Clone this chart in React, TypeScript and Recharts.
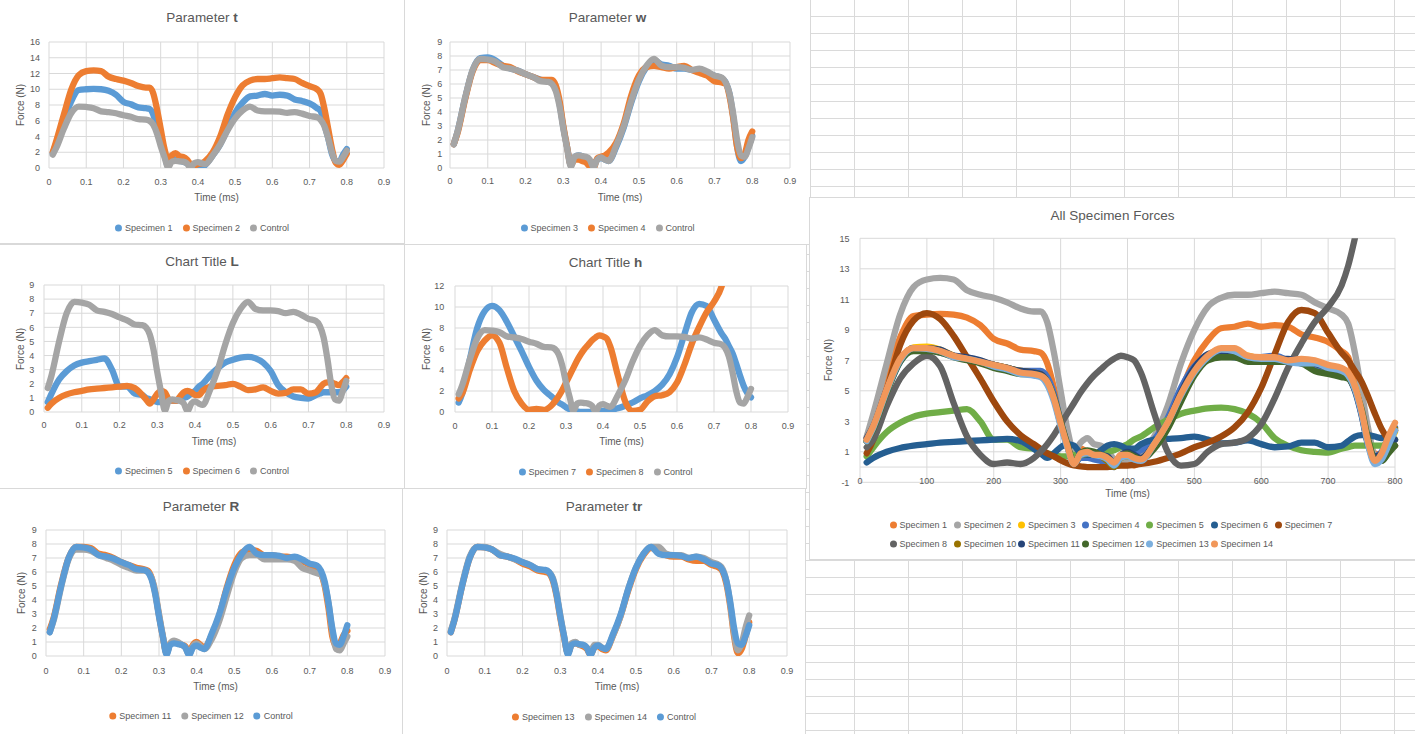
import React from 'react'
import { LineChart, Line, XAxis, YAxis, CartesianGrid, ReferenceLine } from 'recharts'

/* ========================================
   Data
   ======================================== */

const TIME_MS = [
  10, 20, 40, 60, 80, 100, 120, 140, 160, 180, 200, 220, 240, 260, 270, 280, 290, 300,
  310, 320, 330, 340, 350, 360, 370, 380, 390, 400, 410, 420, 440, 460, 480, 500, 520,
  540, 560, 580, 600, 620, 640, 660, 680, 700, 720, 730, 740, 750, 760, 770, 780, 790, 800,
]

const CONTROL = [
  1.7, 2.6, 5.0, 7.0, 7.8, 7.75, 7.6, 7.2, 7.1, 6.95, 6.7, 6.5, 6.2, 6.15, 6.0, 5.5, 4.4, 2.8,
  1.4, 0.1, 0.8, 0.9, 0.85, 0.8, 0.6, 0.05, 0.6, 0.75, 0.6, 0.5, 1.6, 3.0, 4.8, 6.3, 7.3,
  7.8, 7.3, 7.2, 7.2, 7.15, 7.0, 7.1, 6.9, 6.6, 6.45, 6.1, 5.3, 3.8, 2.0, 0.9, 0.8, 1.4, 2.2,
]
const SPECIMEN_1 = [
  1.9, 3.2, 6.0, 8.5, 9.9, 10.0, 10.05, 10.0, 9.8, 9.3, 8.4, 8.1, 7.7, 7.6, 7.5, 6.8, 5.2, 3.5,
  1.8, 0.2, 1.2, 1.0, 0.9, 0.8, 0.6, 0.3, 0.2, 0.3, 0.1, 0.4, 1.6, 3.0, 5.0, 7.0, 8.3,
  9.1, 9.2, 9.4, 9.2, 9.3, 9.2, 8.7, 8.5, 8.2, 7.6, 7.2, 5.5, 3.8, 1.8, 0.9, 0.8, 1.7, 2.4,
]
const SPECIMEN_2 = [
  2.0, 3.5, 6.8, 10.0, 11.8, 12.3, 12.4, 12.3, 11.6, 11.3, 11.1, 10.8, 10.4, 10.2, 10.2, 9.5, 7.5, 5.0,
  2.5, 1.0, 1.6, 1.9, 1.5, 1.4, 1.1, 0.5, 0.3, 0.5, 0.6, 0.9, 2.0, 4.0, 6.8, 9.0, 10.5,
  11.1, 11.3, 11.3, 11.4, 11.5, 11.4, 11.3, 10.8, 10.4, 10.0, 9.4, 7.5, 5.0, 2.5, 0.7, 0.4, 1.0, 1.8,
]
const SPECIMEN_3 = [
  1.7, 2.6, 5.0, 7.0, 7.85, 7.9, 7.7, 7.3, 7.1, 6.95, 6.7, 6.5, 6.3, 6.2, 6.1, 5.7, 4.6, 2.9,
  1.5, 0.2, 0.8, 0.9, 0.85, 0.7, 0.5, 0.3, 0.6, 0.7, 0.6, 0.5, 1.5, 2.9, 4.7, 6.2, 7.2,
  7.7, 7.4, 7.3, 7.1, 7.1, 7.0, 6.9, 6.8, 6.6, 6.4, 6.1, 5.3, 3.6, 1.5, 0.5, 0.8, 1.5, 2.3,
]
const SPECIMEN_4 = [
  1.7, 2.5, 4.9, 6.9, 7.7, 7.7, 7.5, 7.3, 7.2, 6.9, 6.7, 6.5, 6.3, 6.3, 6.3, 5.9, 4.8, 3.0,
  1.5, 0.2, 0.6, 0.6, 0.5, 0.4, 0.1, 0.0, 0.7, 0.8, 0.9, 1.1, 1.8, 3.2, 5.2, 6.6, 7.2,
  7.3, 7.2, 7.1, 7.2, 7.3, 7.0, 6.8, 6.6, 6.2, 6.1, 6.0, 5.1, 3.5, 1.5, 0.7, 1.0, 2.0, 2.6,
]
const SPECIMEN_5 = [
  0.7, 1.3, 2.3, 2.9, 3.3, 3.5, 3.6, 3.7, 3.8, 3.0, 1.8, 1.8, 1.3, 1.2, 1.0, 0.9, 0.8, 0.7,
  0.7, 0.8, 0.8, 0.8, 0.8, 0.9, 1.0, 1.1, 1.3, 1.5, 1.8, 2.0, 2.6, 3.1, 3.5, 3.7, 3.85,
  3.9, 3.8, 3.5, 2.9, 1.9, 1.4, 1.1, 1.0, 0.95, 1.2, 1.3, 1.4, 1.4, 1.4, 1.4, 1.4, 1.5, 1.8,
]
const SPECIMEN_6 = [
  0.3, 0.6, 1.0, 1.25, 1.4, 1.5, 1.6, 1.65, 1.7, 1.75, 1.8, 1.85, 1.7, 1.2, 0.9, 0.6, 0.9, 1.3,
  1.5, 1.4, 0.9, 0.8, 0.8, 1.1, 1.4, 1.5, 1.4, 1.2, 1.2, 1.5, 1.8, 1.85, 1.9, 2.0, 1.8,
  1.55, 1.6, 1.75, 1.5, 1.3, 1.35, 1.6, 1.6, 1.3, 1.4, 1.7, 2.0, 2.1, 2.1, 2.0, 1.9, 2.1, 2.4,
]
const SPECIMEN_7 = [
  0.9, 1.8, 5.0, 8.0, 9.6, 10.1, 9.7, 8.6, 7.2, 5.8, 4.3, 3.0, 2.1, 1.5, 1.2, 0.9, 0.7, 0.45,
  0.25, 0.1, 0.05, 0.0, 0.0, 0.0, 0.0, 0.05, 0.1, 0.1, 0.15, 0.2, 0.35, 0.6, 0.9, 1.3, 1.6,
  2.0, 2.6, 3.6, 5.2, 7.4, 9.5, 10.3, 10.1, 8.8, 7.5, 7.0, 6.3, 5.6, 4.6, 3.5, 2.5, 1.8, 1.4,
]
const SPECIMEN_8 = [
  1.3, 1.8, 4.0, 5.8, 6.8, 7.3, 6.6, 4.2, 2.0, 0.8, 0.2, 0.3, 0.2, 0.6, 1.0, 1.5, 2.1, 2.8,
  3.5, 4.2, 4.9, 5.5, 6.0, 6.4, 6.8, 7.1, 7.3, 7.2, 7.0, 6.2, 3.5, 1.0, 0.1, 0.2, 1.0,
  1.5, 1.6, 1.9, 2.8, 4.5, 6.5, 8.1, 9.5, 10.5, 11.9, 13.2, 15.0, null, null, null, null, null, null,
]
const SPECIMEN_10 = [
  1.7, 2.6, 5.0, 7.0, 7.8, 7.8, 7.6, 7.3, 7.1, 6.9, 6.7, 6.5, 6.3, 6.2, 6.1, 5.6, 4.5, 2.8,
  1.4, 0.2, 0.8, 0.9, 0.8, 0.7, 0.4, 0.0, 0.6, 0.7, 0.6, 0.5, 1.5, 2.9, 4.8, 6.3, 7.3,
  7.7, 7.4, 7.2, 7.2, 7.1, 7.0, 7.0, 6.8, 6.5, 6.3, 6.0, 5.2, 3.6, 1.5, 0.3, 0.8, 1.6, 2.5,
]
const SPECIMEN_11 = [
  1.9, 2.7, 5.1, 7.0, 7.8, 7.8, 7.7, 7.3, 7.2, 7.0, 6.7, 6.5, 6.3, 6.2, 6.1, 5.6, 4.5, 2.9,
  1.4, 0.2, 0.9, 1.0, 0.9, 0.8, 0.7, 0.3, 0.8, 1.0, 0.8, 0.6, 1.5, 2.9, 4.9, 6.5, 7.4,
  7.6, 7.5, 7.2, 7.2, 7.1, 7.1, 7.0, 6.8, 6.5, 6.2, 5.9, 5.0, 3.4, 1.4, 0.7, 0.9, 1.5, 1.8,
]
const SPECIMEN_12 = [
  1.7, 2.5, 4.9, 6.9, 7.6, 7.6, 7.5, 7.2, 7.0, 6.8, 6.5, 6.3, 6.1, 6.1, 6.0, 5.6, 4.6, 3.0,
  1.5, 0.2, 0.9, 1.1, 1.0, 0.8, 0.6, 0.1, 0.7, 0.9, 0.7, 0.5, 1.2, 2.5, 4.3, 6.0, 7.0,
  7.2, 7.2, 6.9, 6.9, 6.9, 6.9, 6.8, 6.3, 6.1, 5.9, 5.8, 5.1, 3.8, 1.8, 0.5, 0.4, 0.9, 1.4,
]
const SPECIMEN_13 = [
  1.7, 2.6, 5.0, 7.0, 7.8, 7.75, 7.6, 7.2, 7.1, 6.9, 6.6, 6.4, 6.1, 6.0, 5.9, 5.4, 4.3, 2.7,
  1.3, 0.2, 0.8, 0.9, 0.8, 0.7, 0.5, 0.1, 0.6, 0.7, 0.5, 0.4, 1.5, 2.9, 4.7, 6.2, 7.2,
  7.7, 7.6, 7.2, 7.1, 7.1, 6.9, 6.8, 6.8, 6.5, 6.3, 6.0, 5.1, 3.5, 1.4, 0.2, 0.5, 1.4, 2.4,
]
const SPECIMEN_14 = [
  1.8, 2.7, 5.1, 7.1, 7.8, 7.8, 7.6, 7.3, 7.1, 6.9, 6.7, 6.5, 6.2, 6.1, 6.0, 5.6, 4.5, 2.9,
  1.4, 0.2, 0.9, 1.0, 0.8, 0.8, 0.6, 0.3, 0.8, 0.8, 0.6, 0.5, 1.5, 2.9, 4.8, 6.3, 7.3,
  7.8, 7.8, 7.3, 7.2, 7.2, 7.0, 7.1, 7.0, 6.7, 6.5, 6.2, 5.3, 3.7, 1.6, 0.4, 0.9, 2.0, 2.9,
]

const X_TICKS_SMALL = [0, 0.1, 0.2, 0.3, 0.4, 0.5, 0.6, 0.7, 0.8, 0.9]
const X_TICKS_ALL = [0, 100, 200, 300, 400, 500, 600, 700, 800]
const Y_TICKS_16 = [0, 2, 4, 6, 8, 10, 12, 14, 16]
const Y_TICKS_12 = [0, 2, 4, 6, 8, 10, 12]
const Y_TICKS_9 = [0, 1, 2, 3, 4, 5, 6, 7, 8, 9]
const Y_TICKS_ALL = [-1, 1, 3, 5, 7, 9, 11, 13, 15]

const SERIES_NAMES: Record<string, string> = {
  control: 'Control',
  s1: 'Specimen 1',
  s2: 'Specimen 2',
  s3: 'Specimen 3',
  s4: 'Specimen 4',
  s5: 'Specimen 5',
  s6: 'Specimen 6',
  s7: 'Specimen 7',
  s8: 'Specimen 8',
  s10: 'Specimen 10',
  s11: 'Specimen 11',
  s12: 'Specimen 12',
  s13: 'Specimen 13',
  s14: 'Specimen 14',
}

const ROWS = TIME_MS.map((ms, i) => ({
  ms,
  t: ms / 1000,
  control: CONTROL[i],
  s1: SPECIMEN_1[i],
  s2: SPECIMEN_2[i],
  s3: SPECIMEN_3[i],
  s4: SPECIMEN_4[i],
  s5: SPECIMEN_5[i],
  s6: SPECIMEN_6[i],
  s7: SPECIMEN_7[i],
  s8: SPECIMEN_8[i],
  s10: SPECIMEN_10[i],
  s11: SPECIMEN_11[i],
  s12: SPECIMEN_12[i],
  s13: SPECIMEN_13[i],
  s14: SPECIMEN_14[i],
}))

/* ========================================
   Layout / styling
   ======================================== */

const TEXT = '#595959'
const LINE_GRID = '#d9d9d9'
const BLUE = '#5B9BD5'
const ORANGE = '#ED7D31'
const GRAY = '#A5A5A5'
const STROKE = 6.3

const SMALL_CHARTS = [
  {
    id: 't', title: ['Parameter ', 't'],
    box: { x: -1, y: -1, w: 406, h: 245 }, plot: { l: 49, t: 42, r: 384, b: 168 },
    yTicks: Y_TICKS_16, series: [['s1', BLUE], ['s2', ORANGE], ['control', GRAY]],
    titleY: 18.3, forceX: 20.7, timeY: 197.7, xLabelY: 181.7, yLabelRight: 40, legendY: 228,
  },
  {
    id: 'w', title: ['Parameter ', 'w'],
    box: { x: 404, y: -1, w: 407, h: 246 }, plot: { l: 450, t: 42, r: 790, b: 168 },
    yTicks: Y_TICKS_9, series: [['s3', BLUE], ['s4', ORANGE], ['control', GRAY]],
    titleY: 18, forceX: 426.7, timeY: 197.7, xLabelY: 181, yLabelRight: 442.3, legendY: 228,
  },
  {
    id: 'L', title: ['Chart Title ', 'L'],
    box: { x: -1, y: 244, w: 406, h: 245 }, plot: { l: 44, t: 285, r: 384, b: 412 },
    yTicks: Y_TICKS_9, series: [['s5', BLUE], ['s6', ORANGE], ['control', GRAY]],
    titleY: 261.7, forceX: 20.7, timeY: 441.7, xLabelY: 425, yLabelRight: 34.3, legendY: 471,
  },
  {
    id: 'h', title: ['Chart Title ', 'h'],
    box: { x: 404, y: 244, w: 403, h: 245 }, plot: { l: 455, t: 286, r: 788, b: 412 },
    yTicks: Y_TICKS_12, series: [['s7', BLUE], ['s8', ORANGE], ['control', GRAY]],
    titleY: 262.7, forceX: 426.7, timeY: 442, xLabelY: 426, yLabelRight: 444.3, legendY: 471.7,
  },
  {
    id: 'R', title: ['Parameter ', 'R'],
    box: { x: -1, y: 488, w: 404, h: 250 }, plot: { l: 46, t: 530, r: 385, b: 656 },
    yTicks: Y_TICKS_9, series: [['s11', ORANGE], ['s12', GRAY], ['control', BLUE]],
    titleY: 507, forceX: 21.7, timeY: 687, xLabelY: 670.7, yLabelRight: 36.7, legendY: 716.3,
  },
  {
    id: 'tr', title: ['Parameter ', 'tr'],
    box: { x: 402, y: 488, w: 404, h: 250 }, plot: { l: 447, t: 530, r: 787, b: 656 },
    yTicks: Y_TICKS_9, series: [['s13', ORANGE], ['s14', GRAY], ['control', BLUE]],
    titleY: 506.5, forceX: 424, timeY: 687, xLabelY: 670.5, yLabelRight: 438, legendY: 716.5,
  },
]

const ALL_SERIES: Array<[string, string]> = [
  ['s1', '#ED7D31'], ['s2', '#A5A5A5'], ['s3', '#FFC000'], ['s4', '#4472C4'],
  ['s5', '#70AD47'], ['s6', '#255E91'], ['s7', '#9E480E'], ['s8', '#636363'],
  ['s10', '#997300'], ['s11', '#264478'], ['s12', '#43682B'], ['s13', '#7CAFDD'],
  ['s14', '#F1975A'],
]

const BIG = {
  box: { x: 809, y: 197, w: 610, h: 363 }, plot: { l: 860, t: 238.3, r: 1395, b: 482.3 },
  titleY: 215.7, forceX: 829, timeY: 494.3, xLabelY: 480.7, yLabelRight: 849.4,
  legendRows: [525, 544], legendX: 893, legendCol: 64.2,
}

const fmtSmall = (v: number) => (v === 0 ? '0' : v.toFixed(1))

/* ========================================
   Pieces
   ======================================== */

function Frame({ box }: any) {
  return (
    <div
      style={{
        position: 'absolute', left: box.x, top: box.y, width: box.w, height: box.h,
        border: `1px solid ${LINE_GRID}`, boxSizing: 'border-box', background: '#fff',
      }}
    />
  )
}

function CenterText({ x, y, size, children, rotate }: any) {
  return (
    <div
      style={{
        position: 'absolute', left: x, top: y, whiteSpace: 'nowrap', fontSize: size, color: TEXT,
        lineHeight: 1, transform: `translate(-50%, -50%)${rotate ? ' rotate(-90deg)' : ''}`,
      }}
    >
      {children}
    </div>
  )
}

function Dot({ color }: { color: string }) {
  return (
    <span
      style={{
        display: 'inline-block', width: 7, height: 7, borderRadius: '50%', background: color,
        marginRight: 3, flex: 'none',
      }}
    />
  )
}

function Plot({ box, plot, xKey, xDomain, xTicks, xFmt, yDomain, yTicks, xLabelY, yLabelRight, series, zeroLine }: any) {
  const margin = { top: plot.t - box.y, right: box.x + box.w - plot.r, left: 0, bottom: 0 }
  return (
    <div style={{ position: 'absolute', left: box.x, top: box.y }}>
      <LineChart width={box.w} height={box.h} data={ROWS} margin={margin}>
        <CartesianGrid stroke={LINE_GRID} />
        <XAxis
          type="number"
          dataKey={xKey}
          domain={xDomain}
          ticks={xTicks}
          interval={0}
          height={box.y + box.h - plot.b}
          axisLine={false}
          tickLine={false}
          tickSize={0}
          tick={(p: any) => (
            <text x={p.x} y={xLabelY - box.y + 3.2} textAnchor="middle" fontSize={9} fill={TEXT}>
              {xFmt(p.payload.value)}
            </text>
          )}
        />
        <YAxis
          type="number"
          domain={yDomain}
          ticks={yTicks}
          interval={0}
          allowDataOverflow
          width={plot.l - box.x}
          axisLine={false}
          tickLine={false}
          tickSize={0}
          tick={(p: any) => (
            <text x={yLabelRight - box.x} y={p.y + 3.2} textAnchor="end" fontSize={9} fill={TEXT}>
              {p.payload.value}
            </text>
          )}
        />
        {zeroLine && <ReferenceLine y={0} stroke={LINE_GRID} />}
        {series.map(([key, color]: [string, string]) => (
          <Line
            key={key}
            type="monotone"
            dataKey={key}
            name={SERIES_NAMES[key]}
            stroke={color}
            strokeWidth={STROKE}
            strokeLinecap="round"
            strokeLinejoin="round"
            dot={false}
            activeDot={false}
            isAnimationActive={false}
          />
        ))}
      </LineChart>
    </div>
  )
}

function SmallChart({ cfg }: any) {
  const { box, plot } = cfg
  const cx = box.x + box.w / 2
  return (
    <>
      <Frame box={box} />
      <Plot
        box={box}
        plot={plot}
        xKey="t"
        xDomain={[0, 0.9]}
        xTicks={X_TICKS_SMALL}
        xFmt={fmtSmall}
        yDomain={[0, cfg.yTicks[cfg.yTicks.length - 1]]}
        yTicks={cfg.yTicks}
        xLabelY={cfg.xLabelY}
        yLabelRight={cfg.yLabelRight}
        series={cfg.series}
      />
      <CenterText x={cx} y={cfg.titleY} size={13.5}>
        {cfg.title[0]}
        <b>{cfg.title[1]}</b>
      </CenterText>
      <CenterText x={cfg.forceX} y={(plot.t + plot.b) / 2} size={10} rotate>
        Force (N)
      </CenterText>
      <CenterText x={(plot.l + plot.r) / 2} y={cfg.timeY} size={10}>
        Time (ms)
      </CenterText>
      <div
        style={{
          position: 'absolute', left: cx, top: cfg.legendY, transform: 'translate(-50%, -50%)',
          display: 'flex', alignItems: 'center', whiteSpace: 'nowrap', fontSize: 9, color: TEXT, lineHeight: 1,
        }}
      >
        {cfg.series.map(([key, color]: [string, string], i: number) => (
          <span key={key} style={{ display: 'flex', alignItems: 'center', marginLeft: i ? 10 : 0 }}>
            <Dot color={color} />
            {SERIES_NAMES[key]}
          </span>
        ))}
      </div>
    </>
  )
}

function AllSpecimens() {
  const { box, plot } = BIG
  const rows = [ALL_SERIES.slice(0, 7), ALL_SERIES.slice(7)]
  return (
    <>
      <Frame box={box} />
      <Plot
        box={box}
        plot={plot}
        xKey="ms"
        xDomain={[0, 800]}
        xTicks={X_TICKS_ALL}
        xFmt={(v: number) => String(v)}
        yDomain={[-1, 15]}
        yTicks={Y_TICKS_ALL}
        xLabelY={BIG.xLabelY}
        yLabelRight={BIG.yLabelRight}
        series={ALL_SERIES}
        zeroLine
      />
      <CenterText x={box.x + 607 / 2} y={BIG.titleY} size={13.5}>
        All Specimen Forces
      </CenterText>
      <CenterText x={BIG.forceX} y={(plot.t + plot.b) / 2} size={10} rotate>
        Force (N)
      </CenterText>
      <CenterText x={(plot.l + plot.r) / 2} y={BIG.timeY} size={10}>
        Time (ms)
      </CenterText>
      {rows.map((row, r) =>
        row.map(([key, color], c) => (
          <div
            key={key}
            style={{
              position: 'absolute', left: BIG.legendX - 3.5 + c * BIG.legendCol, top: BIG.legendRows[r],
              transform: 'translateY(-50%)', display: 'flex', alignItems: 'center',
              whiteSpace: 'nowrap', fontSize: 9, color: TEXT, lineHeight: 1,
            }}
          >
            <Dot color={color} />
            {SERIES_NAMES[key]}
          </div>
        ))
      )}
    </>
  )
}

export default function App() {
  return (
    <div
      style={{
        position: 'absolute', left: 0, top: 0, width: 1415, height: 734, overflow: 'hidden',
        background: '#fff',
        backgroundImage:
          'linear-gradient(to right, #dadada 1px, transparent 1px), linear-gradient(to bottom, #dadada 1px, transparent 1px)',
        backgroundSize: '54px 17px',
        backgroundPosition: '854px 16px',
        fontFamily: '"Liberation Sans", Arial, sans-serif',
      }}
    >
      {SMALL_CHARTS.map((cfg) => (
        <SmallChart key={cfg.id} cfg={cfg} />
      ))}
      <AllSpecimens />
    </div>
  )
}
